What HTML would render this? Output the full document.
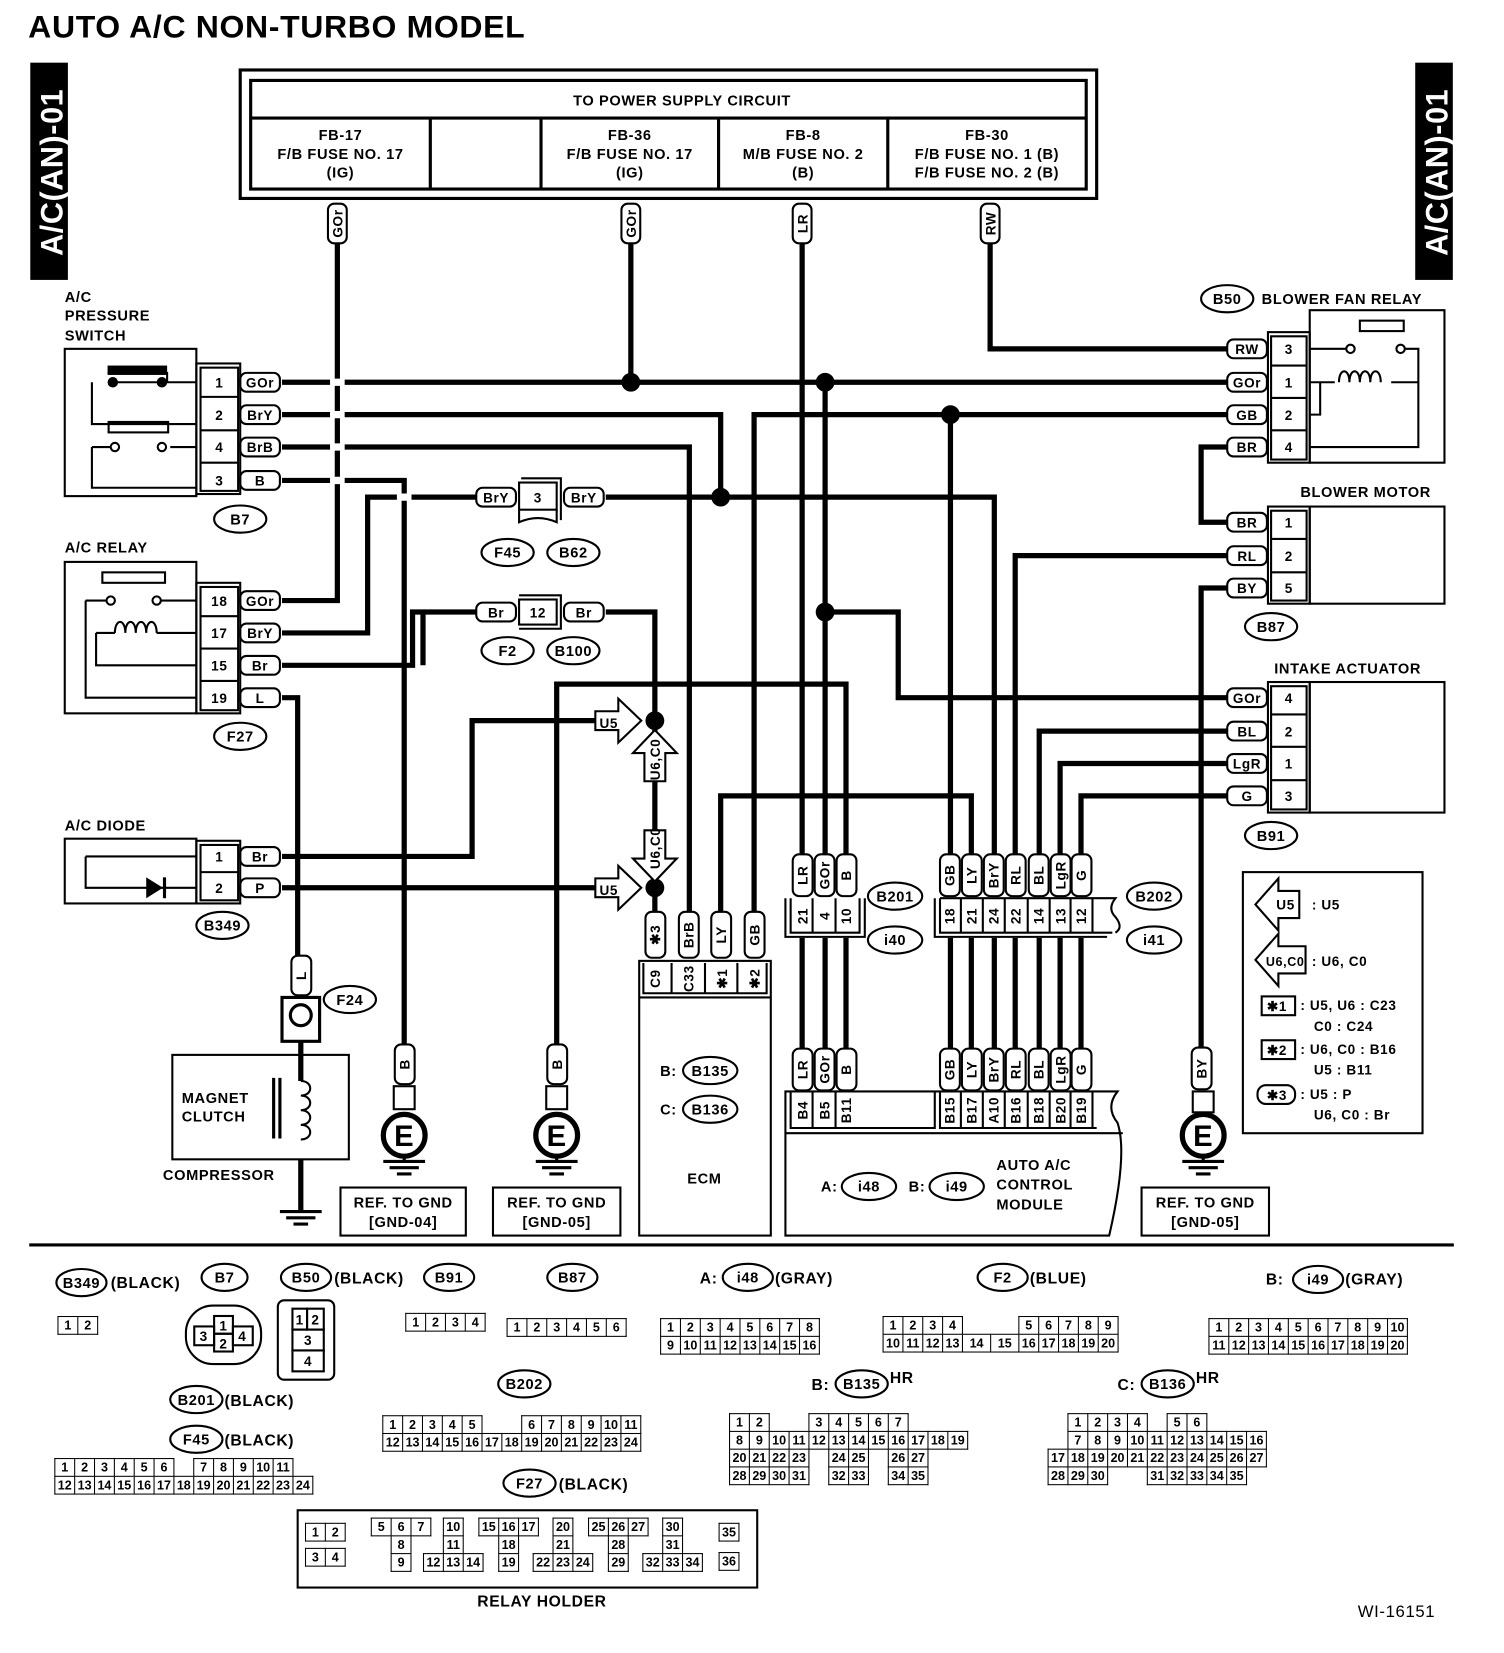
<!DOCTYPE html>
<html><head><meta charset="utf-8">
<style>
html,body{margin:0;padding:0;background:#fff;width:1504px;height:1648px;overflow:hidden}
#root{position:absolute;left:0;top:0;width:1440px;height:1578px;transform:scale(1.04444);transform-origin:0 0;font-family:"Liberation Sans",sans-serif}
svg text{font-family:"Liberation Sans",sans-serif;font-weight:bold;fill:#000;letter-spacing:0.6px}
.w{stroke:#000;stroke-width:5;fill:none}
.l{stroke:#000;stroke-width:2;fill:none}
.tg{fill:#fff;stroke:#000;stroke-width:2}
table.g{position:absolute;border-collapse:collapse;font:bold 12px "Liberation Sans",sans-serif}
table.g td{border:1.5px solid #000;width:18px;height:16px;padding:0;text-align:center;line-height:15px}
table.g td.e{border:none}
</style></head><body><div id="root">
<svg width="1440" height="1578" viewBox="0 0 1440 1578" xmlns="http://www.w3.org/2000/svg">
<text x="27" y="36" font-size="30" textLength="476" lengthAdjust="spacingAndGlyphs">AUTO A/C NON-TURBO MODEL</text>
<rect x="29" y="60" width="36" height="208" fill="#000"/>
<text transform="translate(60,165) rotate(-90)" font-size="30" style="fill:#fff" text-anchor="middle" textLength="160" lengthAdjust="spacingAndGlyphs">A/C(AN)-01</text>
<rect x="1355" y="60" width="36" height="208" fill="#000"/>
<text transform="translate(1386,165) rotate(-90)" font-size="30" style="fill:#fff" text-anchor="middle" textLength="160" lengthAdjust="spacingAndGlyphs">A/C(AN)-01</text>

<rect x="230" y="67" width="820" height="123" fill="none" stroke="#000" stroke-width="3"/>
<rect x="240" y="77" width="800" height="104" fill="none" stroke="#000" stroke-width="3"/>
<line x1="240" y1="113" x2="1040" y2="113" stroke="#000" stroke-width="3"/>
<path d="M412 113V181M518 113V181M688 113V181M850 113V181" stroke="#000" stroke-width="3"/>
<g font-size="14" text-anchor="middle">
<text x="653" y="101">TO POWER SUPPLY CIRCUIT</text>
<text x="326" y="134">FB-17</text><text x="326" y="152">F/B FUSE NO. 17</text><text x="326" y="170">(IG)</text>
<text x="603" y="134">FB-36</text><text x="603" y="152">F/B FUSE NO. 17</text><text x="603" y="170">(IG)</text>
<text x="769" y="134">FB-8</text><text x="769" y="152">M/B FUSE NO. 2</text><text x="769" y="170">(B)</text>
<text x="945" y="134">FB-30</text><text x="945" y="152">F/B FUSE NO. 1 (B)</text><text x="945" y="170">F/B FUSE NO. 2 (B)</text>
</g>

<g class="w">
<path d="M323 232V575H270"/>
<path d="M604 232V366"/>
<path d="M768 232V1005"/>
<path d="M948 232V334H1175"/>
<path d="M270 366H1175"/>
<path d="M790 366V1005"/>
<path d="M270 397H690V476"/>
<path d="M1175 397H722V873"/>
<path d="M910 397V1005"/>
<path d="M270 428H660V873"/>
<path d="M270 460H387V1000"/>
<path d="M270 606H352V476H460"/>
<path d="M580 476H952V1005"/>
<path d="M270 637H395V586H460"/>
<path d="M405 586V637"/>
<path d="M580 586H627V873"/>
<path d="M270 668H285V915"/>
<path d="M270 820H452V690H570"/>
<path d="M270 850H570"/>
<path d="M533 1000V655H810V1005"/>
<path d="M790 586H860V668H1175"/>
<path d="M690 873V762H930V1005"/>
<path d="M972 1005V532H1175"/>
<path d="M995 1005V700H1175"/>
<path d="M1015 1005V731H1175"/>
<path d="M1035 1005V762H1175"/>
<path d="M1175 563H1150V1005"/>
<path d="M1175 428H1150V500H1175"/>
<path d="M288 1110V1160"/>
</g>
<g fill="#000">
<circle cx="604" cy="366" r="9"/><circle cx="790" cy="366" r="9"/><circle cx="910" cy="397" r="9"/>
<circle cx="690" cy="476" r="9"/><circle cx="790" cy="586" r="9"/><circle cx="627" cy="690" r="9"/><circle cx="627" cy="850" r="9"/>
</g>
<g stroke="#fff" stroke-width="7">
<path d="M316 366h14M316 397h14M316 428h14M316 460h14M380 476h14"/>
</g>

<g font-size="13">
<rect class="tg" x="314" y="195" width="18" height="38" rx="6"/><text transform="translate(328,214) rotate(-90)" text-anchor="middle">GOr</text>
<rect class="tg" x="595" y="195" width="18" height="38" rx="6"/><text transform="translate(609,214) rotate(-90)" text-anchor="middle">GOr</text>
<rect class="tg" x="759" y="195" width="18" height="38" rx="6"/><text transform="translate(773,214) rotate(-90)" text-anchor="middle">LR</text>
<rect class="tg" x="939" y="195" width="18" height="38" rx="6"/><text transform="translate(953,214) rotate(-90)" text-anchor="middle">RW</text>
</g>

<g font-size="13" text-anchor="middle">
<rect class="tg" x="230" y="357" width="38" height="18" rx="6"/><text x="249" y="371">GOr</text>
<rect class="tg" x="230" y="388" width="38" height="18" rx="6"/><text x="249" y="402">BrY</text>
<rect class="tg" x="230" y="419" width="38" height="18" rx="6"/><text x="249" y="433">BrB</text>
<rect class="tg" x="230" y="451" width="38" height="18" rx="6"/><text x="249" y="465">B</text>
<rect class="tg" x="230" y="566" width="38" height="18" rx="6"/><text x="249" y="580">GOr</text>
<rect class="tg" x="230" y="597" width="38" height="18" rx="6"/><text x="249" y="611">BrY</text>
<rect class="tg" x="230" y="628" width="38" height="18" rx="6"/><text x="249" y="642">Br</text>
<rect class="tg" x="230" y="659" width="38" height="18" rx="6"/><text x="249" y="673">L</text>
<rect class="tg" x="230" y="811" width="38" height="18" rx="6"/><text x="249" y="825">Br</text>
<rect class="tg" x="230" y="841" width="38" height="18" rx="6"/><text x="249" y="855">P</text>
<rect class="tg" x="1175" y="325" width="38" height="18" rx="6"/><text x="1194" y="339">RW</text>
<rect class="tg" x="1175" y="357" width="38" height="18" rx="6"/><text x="1194" y="371">GOr</text>
<rect class="tg" x="1175" y="388" width="38" height="18" rx="6"/><text x="1194" y="402">GB</text>
<rect class="tg" x="1175" y="419" width="38" height="18" rx="6"/><text x="1194" y="433">BR</text>
<rect class="tg" x="1175" y="491" width="38" height="18" rx="6"/><text x="1194" y="505">BR</text>
<rect class="tg" x="1175" y="523" width="38" height="18" rx="6"/><text x="1194" y="537">RL</text>
<rect class="tg" x="1175" y="554" width="38" height="18" rx="6"/><text x="1194" y="568">BY</text>
<rect class="tg" x="1175" y="659" width="38" height="18" rx="6"/><text x="1194" y="673">GOr</text>
<rect class="tg" x="1175" y="691" width="38" height="18" rx="6"/><text x="1194" y="705">BL</text>
<rect class="tg" x="1175" y="722" width="38" height="18" rx="6"/><text x="1194" y="736">LgR</text>
<rect class="tg" x="1175" y="753" width="38" height="18" rx="6"/><text x="1194" y="767">G</text>
<rect class="tg" x="456" y="467" width="38" height="18" rx="6"/><text x="475" y="481">BrY</text>
<rect x="497" y="462" width="36" height="26" fill="#fff" stroke="#000" stroke-width="2"/><text x="515" y="481">3</text>
<path class="l" d="M497 488v12q18-8 36 0v-12M499 458h38v40"/>
<rect class="tg" x="540" y="467" width="38" height="18" rx="6"/><text x="559" y="481">BrY</text>
<rect class="tg" x="456" y="577" width="38" height="18" rx="6"/><text x="475" y="591">Br</text>
<rect x="497" y="574" width="36" height="24" fill="#fff" stroke="#000" stroke-width="2"/><text x="515" y="591">12</text>
<path class="l" d="M497 570h40v32h-40"/>
<rect class="tg" x="540" y="577" width="38" height="18" rx="6"/><text x="559" y="591">Br</text>
</g>

<g font-size="13" text-anchor="middle" fill="none">
<rect class="l" x="188" y="348" width="42" height="125"/><rect class="l" x="192" y="352" width="36" height="118"/>
<path class="l" d="M192 380h36M192 412h36M192 443h36"/>
<text x="210" y="371">1</text><text x="210" y="402">2</text><text x="210" y="433">4</text><text x="210" y="465">3</text>
<rect class="l" x="188" y="558" width="42" height="125"/><rect class="l" x="192" y="562" width="36" height="118"/>
<path class="l" d="M192 590h36M192 621h36M192 652h36"/>
<text x="210" y="580">18</text><text x="210" y="611">17</text><text x="210" y="642">15</text><text x="210" y="673">19</text>
<rect class="l" x="188" y="805" width="42" height="60"/><rect class="l" x="192" y="809" width="36" height="53"/>
<path class="l" d="M192 835h36"/>
<text x="210" y="825">1</text><text x="210" y="855">2</text>
<rect class="l" x="1214" y="318" width="40" height="125"/><rect class="l" x="1217" y="322" width="34" height="118"/>
<path class="l" d="M1217 350h34M1217 381h34M1217 412h34"/>
<text x="1234" y="339">3</text><text x="1234" y="371">1</text><text x="1234" y="402">2</text><text x="1234" y="433">4</text>
<rect class="l" x="1214" y="485" width="40" height="93"/><rect class="l" x="1217" y="489" width="34" height="86"/>
<path class="l" d="M1217 516h34M1217 548h34"/>
<text x="1234" y="505">1</text><text x="1234" y="537">2</text><text x="1234" y="568">5</text>
<rect class="l" x="1214" y="653" width="40" height="125"/><rect class="l" x="1217" y="657" width="34" height="118"/>
<path class="l" d="M1217 684h34M1217 715h34M1217 747h34"/>
<text x="1234" y="673">4</text><text x="1234" y="705">2</text><text x="1234" y="736">1</text><text x="1234" y="767">3</text>
</g>

<g class="l">
<rect x="62" y="334" width="126" height="141"/>
<rect x="62" y="538" width="126" height="145"/>
<rect x="62" y="803" width="126" height="62"/>
<path d="M188 366H112M155 366h33M88 366V406H188M103 357h57v9M88 428V467H188M112 428h-24M163 428h25"/>
<rect x="104" y="404" width="57" height="10"/>
<circle cx="110" cy="428" r="4" fill="#fff"/><circle cx="155" cy="428" r="4" fill="#fff"/>
<rect x="98" y="548" width="60" height="10"/>
<path d="M82 575H103M150 575H188M82 575V668H188M92 606V637H188M92 606h18M150 606h38"/>
<circle cx="106" cy="575" r="4" fill="#fff"/><circle cx="150" cy="575" r="4" fill="#fff"/>
<path d="M110 606c0-14 10-14 10 0c0-14 10-14 10 0c0-14 10-14 10 0c0-14 10-14 10 0"/>
<path d="M82 820H188M82 820V850H188"/>
</g>
<rect x="103" y="350" width="57" height="9" fill="#000"/>
<circle cx="108" cy="366" r="5" fill="#000"/><circle cx="155" cy="366" r="5" fill="#000"/>
<path d="M140 840v20l16-10z" fill="#000"/><rect x="156" y="840" width="3" height="20" fill="#000"/>

<g class="l">
<rect x="1254" y="297" width="129" height="146"/>
<rect x="1254" y="485" width="129" height="93"/>
<rect x="1254" y="653" width="129" height="125"/>
<rect x="1302" y="307" width="42" height="10"/>
<path d="M1254 334h36M1344 334h14V428H1254M1254 366h24M1332 366h26M1264 366V397H1254"/>
<circle cx="1293" cy="334" r="4" fill="#fff"/><circle cx="1341" cy="334" r="4" fill="#fff"/>
<path d="M1282 366c0-14 10-14 10 0c0-14 10-14 10 0c0-14 10-14 10 0c0-14 10-14 10 0"/>
</g>

<g font-size="14">
<text x="62" y="289">A/C</text><text x="62" y="307">PRESSURE</text><text x="62" y="326">SWITCH</text>
<text x="62" y="529">A/C RELAY</text>
<text x="62" y="795">A/C DIODE</text>
<text x="1208" y="291">BLOWER FAN RELAY</text>
<text x="1245" y="476">BLOWER MOTOR</text>
<text x="1220" y="645">INTAKE ACTUATOR</text>
</g>
<g font-size="14" text-anchor="middle">
<ellipse class="tg" cx="230" cy="497" rx="25" ry="13"/><text x="230" y="502">B7</text>
<ellipse class="tg" cx="230" cy="705" rx="25" ry="13"/><text x="230" y="710">F27</text>
<ellipse class="tg" cx="213" cy="886" rx="25" ry="13"/><text x="213" y="891">B349</text>
<ellipse class="tg" cx="486" cy="529" rx="25" ry="13"/><text x="486" y="534">F45</text>
<ellipse class="tg" cx="549" cy="529" rx="25" ry="13"/><text x="549" y="534">B62</text>
<ellipse class="tg" cx="486" cy="623" rx="25" ry="13"/><text x="486" y="628">F2</text>
<ellipse class="tg" cx="549" cy="623" rx="25" ry="13"/><text x="549" y="628">B100</text>
<ellipse class="tg" cx="1175" cy="286" rx="25" ry="13"/><text x="1175" y="291">B50</text>
<ellipse class="tg" cx="1217" cy="600" rx="25" ry="13"/><text x="1217" y="605">B87</text>
<ellipse class="tg" cx="1217" cy="800" rx="25" ry="13"/><text x="1217" y="805">B91</text>
<ellipse class="tg" cx="335" cy="957" rx="25" ry="13"/><text x="335" y="962">F24</text>
<ellipse class="tg" cx="857" cy="858" rx="26" ry="13"/><text x="857" y="863">B201</text>
<ellipse class="tg" cx="857" cy="900" rx="26" ry="13"/><text x="857" y="905">i40</text>
<ellipse class="tg" cx="1105" cy="858" rx="26" ry="13"/><text x="1105" y="863">B202</text>
<ellipse class="tg" cx="1105" cy="900" rx="26" ry="13"/><text x="1105" y="905">i41</text>
<ellipse class="tg" cx="680" cy="1025" rx="26" ry="13"/><text x="680" y="1030">B135</text>
<ellipse class="tg" cx="680" cy="1062" rx="26" ry="13"/><text x="680" y="1067">B136</text>
<ellipse class="tg" cx="832" cy="1136" rx="26" ry="13"/><text x="832" y="1141">i48</text>
<ellipse class="tg" cx="916" cy="1136" rx="26" ry="13"/><text x="916" y="1141">i49</text>
</g>
<g font-size="14">
<text x="632" y="1030">B:</text><text x="632" y="1067">C:</text>
<text x="786" y="1141">A:</text><text x="870" y="1141">B:</text>
<text x="954" y="1120">AUTO A/C</text><text x="954" y="1139">CONTROL</text><text x="954" y="1158">MODULE</text>
<text x="658" y="1133">ECM</text>
</g>

<g class="tg">
<path d="M570 681h22v-12l22 21-22 21v-12h-22z"/>
<path d="M570 841h22v-12l22 21-22 21v-12h-22z"/>
<path d="M617 748v-27h-11l21-22 21 22h-11v27z"/>
<path d="M617 795v27h-11l21 22 21-22h-11v-27z"/>
</g>
<g font-size="13">
<text x="574" y="697">U5</text><text x="574" y="857">U5</text>
<text transform="translate(632,747) rotate(-90)">U6,C0</text>
<text transform="translate(632,832) rotate(-90)">U6,C0</text>
</g>

<g font-size="13" text-anchor="middle">
<rect class="tg" x="618" y="873" width="19" height="44" rx="6"/><text transform="translate(632,895) rotate(-90)">✱3</text>
<rect class="tg" x="650" y="873" width="19" height="44" rx="6"/><text transform="translate(664,895) rotate(-90)">BrB</text>
<rect class="tg" x="681" y="873" width="19" height="44" rx="6"/><text transform="translate(695,895) rotate(-90)">LY</text>
<rect class="tg" x="713" y="873" width="19" height="44" rx="6"/><text transform="translate(727,895) rotate(-90)">GB</text>
</g>
<g class="l">
<rect x="612" y="920" width="126" height="263"/>
<path d="M612 955H738M616 922V951H734V922M643 922V951M675 922V951M706 922V951"/>
</g>
<g font-size="13" text-anchor="middle">
<text transform="translate(632,937) rotate(-90)">C9</text>
<text transform="translate(664,937) rotate(-90)">C33</text>
<text transform="translate(696,937) rotate(-90)">✱1</text>
<text transform="translate(727,937) rotate(-90)">✱2</text>
</g>

<rect x="752" y="858" width="77" height="40" fill="#fff"/>
<rect x="895" y="858" width="175" height="40" fill="#fff"/>
<rect x="752" y="1045" width="320" height="40" fill="#fff"/>

<g font-size="13" text-anchor="middle">
<g id="t1">
<rect class="tg" x="759" y="818" width="19" height="40" rx="6"/><text transform="translate(773,838) rotate(-90)">LR</text>
<rect class="tg" x="780" y="818" width="19" height="40" rx="6"/><text transform="translate(794,838) rotate(-90)">GOr</text>
<rect class="tg" x="801" y="818" width="19" height="40" rx="6"/><text transform="translate(815,838) rotate(-90)">B</text>
<rect class="tg" x="900" y="818" width="19" height="40" rx="6"/><text transform="translate(914,838) rotate(-90)">GB</text>
<rect class="tg" x="921" y="818" width="19" height="40" rx="6"/><text transform="translate(935,838) rotate(-90)">LY</text>
<rect class="tg" x="942" y="818" width="19" height="40" rx="6"/><text transform="translate(956,838) rotate(-90)">BrY</text>
<rect class="tg" x="963" y="818" width="19" height="40" rx="6"/><text transform="translate(977,838) rotate(-90)">RL</text>
<rect class="tg" x="985" y="818" width="19" height="40" rx="6"/><text transform="translate(999,838) rotate(-90)">BL</text>
<rect class="tg" x="1006" y="818" width="19" height="40" rx="6"/><text transform="translate(1020,838) rotate(-90)">LgR</text>
<rect class="tg" x="1026" y="818" width="19" height="40" rx="6"/><text transform="translate(1040,838) rotate(-90)">G</text>
</g>
<use href="#t1" y="186"/>
</g>
<g class="l">
<path d="M752 860V897H828V860M757 860V893H823V860"/>
<path d="M778 860V893M800 860V893"/>
<path d="M895 860V897H1060M900 860V893H1065M900 860H1068q-8 10 0 18q8 10 0 15"/>
<path d="M920 860V893M941 860V893M962 860V893M984 860V893M1005 860V893M1025 860V893M1046 860V893"/>
<path d="M752 1045H1070q-12 15 0 30q10 30 -8 108H752Z"/>
<path d="M757 1045V1080H895V1045M900 1045V1080H1050M778 1045V1080M800 1045V1080M920 1045V1080M941 1045V1080M962 1045V1080M984 1045V1080M1005 1045V1080M1025 1045V1080M1046 1045V1080M752 1085H1075"/>
</g>
<g font-size="13" text-anchor="middle">
<text transform="translate(773,877) rotate(-90)">21</text><text transform="translate(794,877) rotate(-90)">4</text><text transform="translate(815,877) rotate(-90)">10</text>
<text transform="translate(914,877) rotate(-90)">18</text><text transform="translate(935,877) rotate(-90)">21</text><text transform="translate(956,877) rotate(-90)">24</text><text transform="translate(977,877) rotate(-90)">22</text><text transform="translate(999,877) rotate(-90)">14</text><text transform="translate(1020,877) rotate(-90)">13</text><text transform="translate(1040,877) rotate(-90)">12</text>
<text transform="translate(773,1063) rotate(-90)">B4</text><text transform="translate(794,1063) rotate(-90)">B5</text><text transform="translate(815,1063) rotate(-90)">B11</text>
<text transform="translate(914,1063) rotate(-90)">B15</text><text transform="translate(935,1063) rotate(-90)">B17</text><text transform="translate(956,1063) rotate(-90)">A10</text><text transform="translate(977,1063) rotate(-90)">B16</text><text transform="translate(999,1063) rotate(-90)">B18</text><text transform="translate(1020,1063) rotate(-90)">B20</text><text transform="translate(1040,1063) rotate(-90)">B19</text>
</g>

<g font-size="13" text-anchor="middle">
<rect class="tg" x="378" y="1000" width="19" height="38" rx="6"/><text transform="translate(392,1019) rotate(-90)">B</text>
<rect class="tg" x="524" y="1000" width="19" height="38" rx="6"/><text transform="translate(538,1019) rotate(-90)">B</text>
<rect class="tg" x="1141" y="1003" width="19" height="40" rx="6"/><text transform="translate(1155,1023) rotate(-90)">BY</text>
</g>
<g>
<rect class="tg" x="377" y="1040" width="20" height="22"/><rect class="tg" x="523" y="1040" width="20" height="22"/><rect class="tg" x="1142" y="1045" width="20" height="20"/>
<circle cx="387" cy="1087" r="20" fill="#fff" stroke="#000" stroke-width="5"/>
<circle cx="533" cy="1087" r="20" fill="#fff" stroke="#000" stroke-width="5"/>
<circle cx="1152" cy="1087" r="20" fill="#fff" stroke="#000" stroke-width="5"/>
<text x="387" y="1097" font-size="28" text-anchor="middle">E</text>
<text x="533" y="1097" font-size="28" text-anchor="middle">E</text>
<text x="1152" y="1097" font-size="28" text-anchor="middle">E</text>
<path d="M387 1107v5M367 1112h40M373 1118h28M380 1124h14M533 1107v5M513 1112h40M519 1118h28M526 1124h14M1152 1107v5M1132 1112h40M1138 1118h28M1145 1124h14" stroke="#000" stroke-width="3"/>
<rect class="l" x="326" y="1137" width="120" height="46"/><rect class="l" x="472" y="1137" width="122" height="46"/><rect class="l" x="1093" y="1137" width="122" height="46"/>
<g font-size="14" text-anchor="middle">
<text x="386" y="1156">REF. TO GND</text><text x="386" y="1175">[GND-04]</text>
<text x="533" y="1156">REF. TO GND</text><text x="533" y="1175">[GND-05]</text>
<text x="1154" y="1156">REF. TO GND</text><text x="1154" y="1175">[GND-05]</text>
</g>
</g>

<rect class="tg" x="279" y="915" width="19" height="38" rx="6"/><text transform="translate(293,934) rotate(-90)" font-size="13" text-anchor="middle">L</text>
<rect x="270" y="955" width="36" height="42" fill="none" stroke="#000" stroke-width="3"/>
<circle cx="288" cy="972" r="10" fill="none" stroke="#000" stroke-width="3"/>
<path class="w" d="M288 997V1035"/>
<rect class="l" x="165" y="1010" width="169" height="100"/>
<path class="l" d="M288 1035c12 0 12 14 0 14c12 0 12 14 0 14c12 0 12 14 0 14c12 0 12 14 0 14"/>
<path d="M262 1032V1090M268 1032V1090" stroke="#000" stroke-width="3"/>
<g font-size="14"><text x="174" y="1056">MAGNET</text><text x="174" y="1074">CLUTCH</text><text x="156" y="1130">COMPRESSOR</text></g>
<path d="M268 1160h40M274 1166h28M281 1172h14" stroke="#000" stroke-width="3"/>

<rect class="l" x="1190" y="835" width="172" height="250"/>
<path class="tg" d="M1244 853v26h-20v12l-22-25 22-25v12z"/>
<path class="tg" d="M1250 906v26h-26v12l-22-25 22-25v12z"/>
<g font-size="13">
<text x="1222" y="871">U5</text><text x="1256" y="871">: U5</text>
<text x="1212" y="925" font-size="12">U6,C0</text><text x="1256" y="925">: U6, C0</text>
<rect class="l" x="1208" y="954" width="32" height="18"/><text x="1213" y="968">✱1</text>
<text x="1245" y="967">: U5, U6 : C23</text><text x="1258" y="987">C0 : C24</text>
<rect class="l" x="1208" y="996" width="32" height="18"/><text x="1213" y="1010">✱2</text>
<text x="1245" y="1009">: U6, C0 : B16</text><text x="1258" y="1029">U5 : B11</text>
<rect class="tg" x="1204" y="1039" width="36" height="18" rx="8"/><text x="1213" y="1053">✱3</text>
<text x="1245" y="1052">: U5 : P</text><text x="1258" y="1072">U6, C0 : Br</text>
</g>

<line x1="28" y1="1192" x2="1392" y2="1192" stroke="#000" stroke-width="3"/>

<g font-size="14" text-anchor="middle">
<ellipse class="tg" cx="78" cy="1228" rx="24" ry="13"/><text x="78" y="1233">B349</text>
<ellipse class="tg" cx="215" cy="1223" rx="22" ry="13"/><text x="215" y="1228">B7</text>
<ellipse class="tg" cx="293" cy="1223" rx="24" ry="13"/><text x="293" y="1228">B50</text>
<ellipse class="tg" cx="430" cy="1223" rx="24" ry="13"/><text x="430" y="1228">B91</text>
<ellipse class="tg" cx="548" cy="1223" rx="24" ry="13"/><text x="548" y="1228">B87</text>
<ellipse class="tg" cx="716" cy="1223" rx="24" ry="13"/><text x="716" y="1228">i48</text>
<ellipse class="tg" cx="960" cy="1223" rx="24" ry="13"/><text x="960" y="1228">F2</text>
<ellipse class="tg" cx="1262" cy="1225" rx="24" ry="13"/><text x="1262" y="1230">i49</text>
<ellipse class="tg" cx="188" cy="1340" rx="25" ry="13"/><text x="188" y="1345">B201</text>
<ellipse class="tg" cx="188" cy="1378" rx="25" ry="13"/><text x="188" y="1383">F45</text>
<ellipse class="tg" cx="502" cy="1325" rx="25" ry="13"/><text x="502" y="1330">B202</text>
<ellipse class="tg" cx="507" cy="1420" rx="25" ry="13"/><text x="507" y="1425">F27</text>
<ellipse class="tg" cx="825" cy="1325" rx="25" ry="13"/><text x="825" y="1330">B135</text>
<ellipse class="tg" cx="1118" cy="1325" rx="25" ry="13"/><text x="1118" y="1330">B136</text>
</g>
<g font-size="15">
<text x="106" y="1233">(BLACK)</text><text x="320" y="1229">(BLACK)</text><text x="742" y="1229">(GRAY)</text>
<text x="986" y="1229">(BLUE)</text><text x="1288" y="1230">(GRAY)</text><text x="670" y="1229">A:</text><text x="1212" y="1230">B:</text>
<text x="215" y="1346">(BLACK)</text><text x="215" y="1384">(BLACK)</text><text x="535" y="1426">(BLACK)</text>
<text x="777" y="1331">B:</text><text x="852" y="1324">HR</text><text x="1070" y="1331">C:</text><text x="1145" y="1324">HR</text>
<text x="457" y="1538">RELAY HOLDER</text>
<text x="1300" y="1548" style="font-weight:normal" font-size="16">WI-16151</text>
</g>
<rect class="l" x="178" y="1250" width="72" height="56" rx="26"/>
<g class="l"><rect x="205" y="1260" width="18" height="17"/><rect x="205" y="1277" width="18" height="17"/><rect x="186" y="1270" width="19" height="18"/><rect x="223" y="1270" width="19" height="18"/></g>
<g font-size="13" text-anchor="middle"><text x="214" y="1274">1</text><text x="214" y="1291">2</text><text x="195" y="1284">3</text><text x="232" y="1284">4</text></g>
<rect class="l" x="266" y="1245" width="54" height="76" rx="6"/>
<g class="l"><rect x="280" y="1253" width="14" height="20"/><rect x="294" y="1253" width="16" height="20"/><rect x="280" y="1273" width="30" height="20"/><rect x="280" y="1293" width="30" height="20"/></g>
<g font-size="13" text-anchor="middle"><text x="287" y="1268">1</text><text x="302" y="1268">2</text><text x="295" y="1288">3</text><text x="295" y="1308">4</text></g>
<rect class="l" x="285" y="1446" width="440" height="74"/>
</svg>

<table class="g" style="left:55px;top:1260px"><tr><td>1</td><td>2</td></tr></table>
<table class="g" style="left:388px;top:1257px"><tr><td>1</td><td>2</td><td>3</td><td>4</td></tr></table>
<table class="g" style="left:485px;top:1262px"><tr><td>1</td><td>2</td><td>3</td><td>4</td><td>5</td><td>6</td></tr></table>
<table class="g" style="left:632px;top:1262px"><tr><td>1</td><td>2</td><td>3</td><td>4</td><td>5</td><td>6</td><td>7</td><td>8</td></tr><tr><td>9</td><td>10</td><td>11</td><td>12</td><td>13</td><td>14</td><td>15</td><td>16</td></tr></table>
<table class="g" style="left:845px;top:1260px"><tr><td>1</td><td>2</td><td>3</td><td>4</td><td class="e"></td><td class="e"></td><td>5</td><td>6</td><td>7</td><td>8</td><td>9</td></tr><tr><td>10</td><td>11</td><td>12</td><td>13</td><td style="width:26px">14</td><td style="width:26px">15</td><td>16</td><td>17</td><td>18</td><td>19</td><td>20</td></tr></table>
<table class="g" style="left:1157px;top:1262px"><tr><td>1</td><td>2</td><td>3</td><td>4</td><td>5</td><td>6</td><td>7</td><td>8</td><td>9</td><td>10</td></tr><tr><td>11</td><td>12</td><td>13</td><td>14</td><td>15</td><td>16</td><td>17</td><td>18</td><td>19</td><td>20</td></tr></table>
<table class="g" style="left:52px;top:1396px"><tr><td>1</td><td>2</td><td>3</td><td>4</td><td>5</td><td>6</td><td class="e"></td><td>7</td><td>8</td><td>9</td><td>10</td><td>11</td></tr><tr><td>12</td><td>13</td><td>14</td><td>15</td><td>16</td><td>17</td><td>18</td><td>19</td><td>20</td><td>21</td><td>22</td><td>23</td><td>24</td></tr></table>
<table class="g" style="left:366px;top:1355px"><tr><td>1</td><td>2</td><td>3</td><td>4</td><td>5</td><td class="e"></td><td class="e"></td><td>6</td><td>7</td><td>8</td><td>9</td><td>10</td><td>11</td></tr><tr><td>12</td><td>13</td><td>14</td><td>15</td><td>16</td><td>17</td><td>18</td><td>19</td><td>20</td><td>21</td><td>22</td><td>23</td><td>24</td></tr></table>
<table class="g" style="left:698px;top:1353px"><tr><td>1</td><td>2</td><td class="e"></td><td class="e"></td><td>3</td><td>4</td><td>5</td><td>6</td><td>7</td></tr><tr><td>8</td><td>9</td><td>10</td><td>11</td><td>12</td><td>13</td><td>14</td><td>15</td><td>16</td><td>17</td><td>18</td><td>19</td></tr><tr><td>20</td><td>21</td><td>22</td><td>23</td><td class="e"></td><td>24</td><td>25</td><td class="e"></td><td>26</td><td>27</td></tr><tr><td>28</td><td>29</td><td>30</td><td>31</td><td class="e"></td><td>32</td><td>33</td><td class="e"></td><td>34</td><td>35</td></tr></table>
<table class="g" style="left:1003px;top:1353px"><tr><td class="e"></td><td>1</td><td>2</td><td>3</td><td>4</td><td class="e"></td><td>5</td><td>6</td></tr><tr><td class="e"></td><td>7</td><td>8</td><td>9</td><td>10</td><td>11</td><td>12</td><td>13</td><td>14</td><td>15</td><td>16</td></tr><tr><td>17</td><td>18</td><td>19</td><td>20</td><td>21</td><td>22</td><td>23</td><td>24</td><td>25</td><td>26</td><td>27</td></tr><tr><td>28</td><td>29</td><td>30</td><td class="e"></td><td class="e"></td><td>31</td><td>32</td><td>33</td><td>34</td><td>35</td></tr></table>
<table class="g" style="left:292px;top:1458px"><tr><td>1</td><td>2</td></tr><tr><td class="e" colspan="2" style="height:6px"></td></tr><tr><td>3</td><td>4</td></tr></table>
<table class="g" style="left:355px;top:1453px"><tr><td>5</td><td>6</td><td>7</td></tr><tr><td class="e"></td><td>8</td><td class="e"></td></tr><tr><td class="e"></td><td>9</td><td class="e"></td></tr></table>
<table class="g" style="left:405px;top:1453px"><tr><td class="e"></td><td>10</td><td class="e"></td></tr><tr><td class="e"></td><td>11</td><td class="e"></td></tr><tr><td>12</td><td>13</td><td>14</td></tr></table>
<table class="g" style="left:458px;top:1453px"><tr><td>15</td><td>16</td><td>17</td></tr><tr><td class="e"></td><td>18</td><td class="e"></td></tr><tr><td class="e"></td><td>19</td><td class="e"></td></tr></table>
<table class="g" style="left:510px;top:1453px"><tr><td class="e"></td><td>20</td><td class="e"></td></tr><tr><td class="e"></td><td>21</td><td class="e"></td></tr><tr><td>22</td><td>23</td><td>24</td></tr></table>
<table class="g" style="left:563px;top:1453px"><tr><td>25</td><td>26</td><td>27</td></tr><tr><td class="e"></td><td>28</td><td class="e"></td></tr><tr><td class="e"></td><td>29</td><td class="e"></td></tr></table>
<table class="g" style="left:615px;top:1453px"><tr><td class="e"></td><td>30</td><td class="e"></td></tr><tr><td class="e"></td><td>31</td><td class="e"></td></tr><tr><td>32</td><td>33</td><td>34</td></tr></table>
<table class="g" style="left:688px;top:1458px"><tr><td>35</td></tr><tr><td class="e" style="height:10px"></td></tr><tr><td>36</td></tr></table>
</div></body></html>
